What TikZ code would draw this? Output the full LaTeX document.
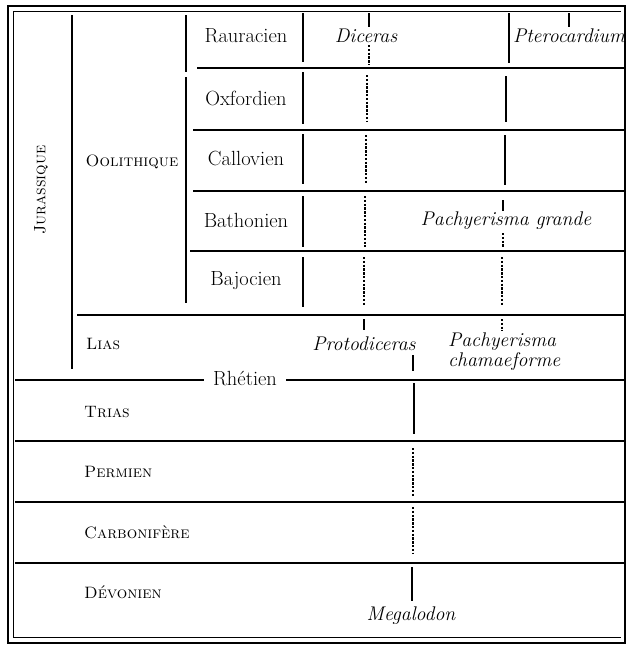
\documentclass[tikz,border=0pt]{standalone}
\begin{document}
\begin{tikzpicture}[x=1pt,y=-1pt,
  frame/.style={line width=2.6pt},
  thin/.style={line width=0.9pt},
  rule/.style={line width=1.2pt},
  hrule/.style={line width=1.3pt},
  solidrange/.style={line width=1.3pt},
  dashrange/.style={line width=1.3pt,dash pattern=on 2.4pt off 1.4pt},
  lbl/.style={inner sep=0pt,font=\fontsize{20.5}{24}\selectfont},
  sclbl/.style={inner sep=0pt,font=\fontsize{16.5}{20}\selectfont\scshape},
  fossil/.style={inner sep=0pt,font=\fontsize{19.8}{24}\selectfont\itshape}]
\useasboundingbox (0,0) rectangle (627,645);

% frame: heavy outer rule with a thin inner rule
\draw[frame] (8,643) -- (8,6) -- (625,6) -- (625,643) -- cycle;
\draw[thin] (13,637) -- (13,11) -- (621,11);
\draw[thin] (13,637) -- (621,637);

% column dividers
\draw[rule] (72,15) -- (72,369);
\draw[rule] (186,15) -- (186,72);
\draw[rule] (186,77) -- (186,303);
\foreach \a/\b in {13/62,72/124,134/184,196/247,257/307}
  \draw[rule] (303,\a) -- (303,\b);

% stage rules
\draw[hrule] (197,68) -- (625,68);
\draw[hrule] (193,130) -- (625,130);
\draw[hrule] (193,191) -- (625,191);
\draw[hrule] (190,251) -- (625,251);
\draw[hrule] (77,315) -- (625,315);
\draw[hrule] (15,441) -- (625,441);
\draw[hrule] (15,502) -- (625,502);
\draw[hrule] (15,563) -- (625,563);

% period names
\node[sclbl,rotate=90] (jur) at (41,190) {Jurassique};
\node[sclbl] (ool) at (132,162) {Oolithique};
\node[sclbl,anchor=west] (lias) at (86,344) {Lias};
\node[lbl] (rhet) at (245,379) {Rhétien};
\draw[hrule] (15,380) -- ([xshift=-9pt]rhet.west |- 0,380);
\draw[hrule] ([xshift=9pt]rhet.east |- 0,380) -- (625,380);
\node[sclbl,anchor=west] (trias) at (84,412) {Trias};
\node[sclbl,anchor=west] (perm) at (84,472) {Permien};
\node[sclbl,anchor=west] (carb) at (84,532) {Carbonifère};
\node[sclbl,anchor=west] (dev) at (84,592) {Dévonien};

% stage names
\node[lbl] (rau) at (246,36) {Rauracien};
\node[lbl] (oxf) at (246,98) {Oxfordien};
\node[lbl] (cal) at (246,158) {Callovien};
\node[lbl] (bat) at (246,220) {Bathonien};
\node[lbl] (baj) at (246,281) {Bajocien};

% genera
\node[fossil] (dic) at (366,36) {Diceras};
\node[fossil] (pter) at (569,36) {Pterocardium};
\node[fossil] (pgr) at (506,221) {Pachyerisma grande};
\node[fossil] (proto) at (364,344) {Protodiceras};
\node[fossil,anchor=west] (pcham) at (448,342) {Pachyerisma};
\node[fossil,anchor=west] (pcham2) at (448,362) {chamaeforme};
\node[fossil] (mega) at (411,616) {Megalodon};

% Diceras -- Protodiceras -- Megalodon line
\draw[solidrange] (369,13) -- (369,27);
\draw[dashrange] (369,45) -- (369,65);
\draw[dashrange] (367,75) -- (367,122);
\draw[dashrange] (366,135) -- (366,183);
\draw[dashrange] (365,196) -- (365,247);
\draw[dashrange] (364,257) -- (364,306);
\draw[solidrange] (364,319) -- (364,330);
\draw[solidrange] (413,355) -- (413,371);
\draw[solidrange] (414,383) -- (414,434);
\draw[dashrange] (413,448) -- (413,497);
\draw[dashrange] (413,507) -- (413,553);
\draw[solidrange] (412,567) -- (412,601);

% Pterocardium -- Pachyerisma line
\draw[solidrange] (569,13) -- (569,27);
\draw[solidrange] (509,13) -- (509,63);
\draw[solidrange] (506,76) -- (506,122);
\draw[solidrange] (505,135) -- (505,185);
\draw[solidrange] (503,200) -- (503,211);
\draw[dashrange] (503,233) -- (503,247);
\draw[dashrange] (502,257) -- (502,306);
\draw[dashrange] (502,319) -- (502,331);
\end{tikzpicture}
\end{document}
